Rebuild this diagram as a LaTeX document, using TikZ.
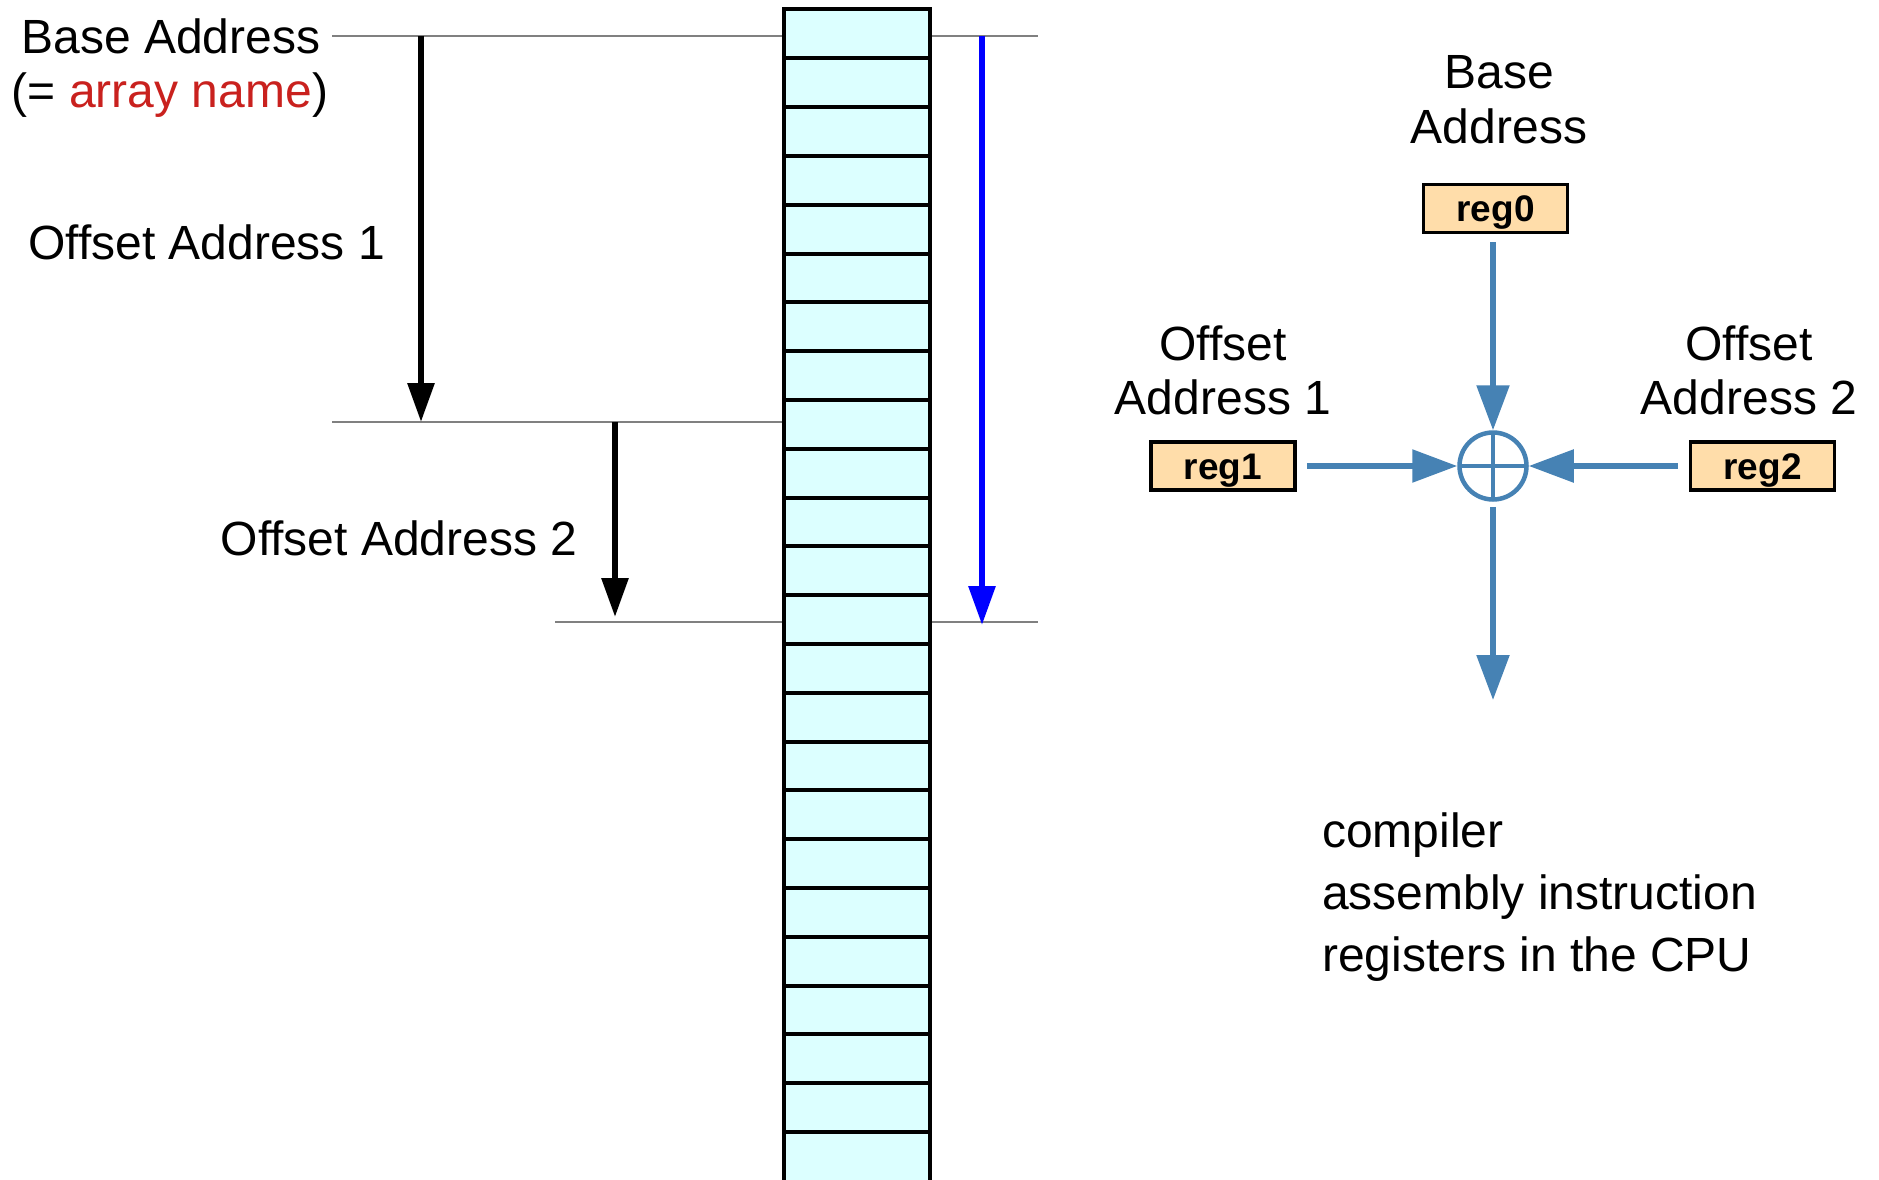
\documentclass[tikz,border=0pt]{standalone}
\usepackage{fontspec}
\setmainfont{Liberation Sans}
\usetikzlibrary{arrows.meta}
\definecolor{cellfill}{RGB}{220,255,255}
\definecolor{regfill}{RGB}{255,221,170}
\definecolor{sblue}{RGB}{70,130,180}
\definecolor{arrayred}{RGB}{201,33,30}
\definecolor{guide}{RGB}{128,128,128}
\begin{document}
\begin{tikzpicture}[x=1pt,y=-1pt,
  lbl/.style={inner sep=0pt, font=\fontsize{48}{48}\selectfont},
  regbox/.style={draw=black, line width=3.5pt, fill=regfill, minimum width=144pt, minimum height=48pt,
    inner sep=0pt, text height=26pt, text depth=0pt, font=\fontsize{37}{37}\selectfont\bfseries},
  guideline/.style={draw=guide, line width=2pt},
  blackarrow/.style={draw=black, line width=6pt, -{Triangle[length=39pt,width=26pt]}},
  bluearrow/.style={draw=blue, line width=6pt, -{Triangle[length=39pt,width=26pt]}},
  sarrow/.style={draw=sblue, line width=5.5pt, -{Triangle[length=45pt,width=32pt]}},
  cellline/.style={draw=black, line width=4pt}
]
\clip (0,0) rectangle (1879,1180);
\fill[white] (0,0) rectangle (1879,1180);

% guide lines
\draw[guideline] (332,36) -- (784,36);
\draw[guideline] (930,36) -- (1038,36);
\draw[guideline] (332,422) -- (784,422);
\draw[guideline] (555,622) -- (784,622);
\draw[guideline] (930,622) -- (1038,622);

% memory column
\fill[cellfill] (784,9.5) rectangle (929.5,1250);
\foreach \k in {0,...,23} \draw[cellline] (784,{9.5+\k*48.8}) -- (929.5,{9.5+\k*48.8});
\draw[cellline] (784,9.5) rectangle (929.5,1250);

% left labels
\node[lbl, anchor=base] (lb1) at (171,54) {Base Address};
\node[lbl, anchor=base] (lb2) at (170,108) {(= \textcolor{arrayred}{array name})};
\node[lbl, anchor=base] (lo1) at (206.5,259) {Offset Address 1};
\node[lbl, anchor=base] (lo2) at (399,555) {Offset Address 2};

% offset arrows
\coordinate (b0) at (421,36);
\coordinate (b1) at (421,422);
\coordinate (c0) at (615,422);
\coordinate (c1) at (615,617);
\coordinate (d0) at (982,36);
\coordinate (d1) at (982,625);
\draw[blackarrow] (b0) -- (b1);
\draw[blackarrow] (c0) -- (c1);
\draw[bluearrow] (d0) -- (d1);

% right side
\node[lbl, anchor=base] (rb1) at (1499,89) {Base};
\node[lbl, anchor=base] (rb2) at (1499,143) {Address};
\node[lbl, anchor=base] (r11) at (1223,360) {Offset};
\node[lbl, anchor=base] (r12) at (1223,414) {Address 1};
\node[lbl, anchor=base] (r21) at (1749,360) {Offset};
\node[lbl, anchor=base] (r22) at (1749,414) {Address 2};

\node[regbox] (reg0) at (1495.5,208.5) {reg0};
\node[regbox] (reg1) at (1223,466) {reg1};
\node[regbox] (reg2) at (1762.5,466) {reg2};

\node[circle, draw=sblue, line width=4.5pt, minimum size=67pt, inner sep=0pt] (sum) at (1493,466) {};
\draw[sblue, line width=4.5pt] (1493,432.5) -- (1493,499.5);
\draw[sblue, line width=4.5pt] (1459.5,466) -- (1526.5,466);

\coordinate (out) at (1493,700);
\draw[sarrow, shorten <=8pt] (reg0.south -| sum.north) -- (sum.north);
\draw[sarrow, shorten <=10pt] (reg1) -- (sum);
\draw[sarrow, shorten <=11pt] (reg2) -- (sum);
\draw[sarrow, shorten <=5pt] (sum) -- (out);

% notes
\node[lbl, anchor=base west] (n1) at (1322,847) {compiler};
\node[lbl, anchor=base west] (n2) at (1322,909) {assembly instruction};
\node[lbl, anchor=base west] (n3) at (1322,971) {registers in the CPU};
\end{tikzpicture}
\end{document}
